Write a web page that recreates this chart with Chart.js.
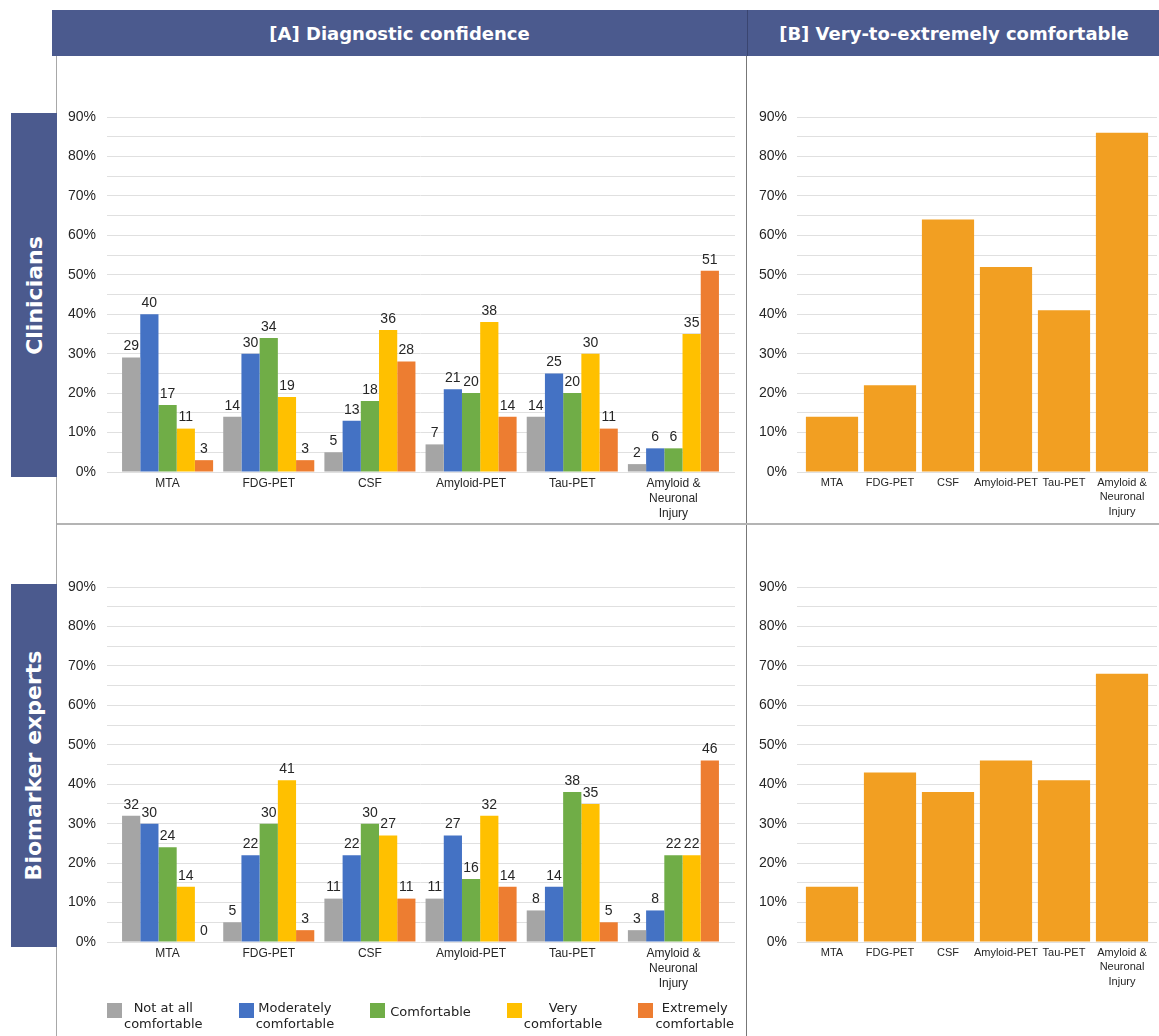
<!DOCTYPE html>
<html><head><meta charset="utf-8">
<script src="https://cdn.jsdelivr.net/npm/chart.js@4.4.1/dist/chart.umd.min.js"></script>
<style>
html,body{margin:0;padding:0;background:#fff;}
body{width:1159px;height:1036px;position:relative;overflow:hidden;font-family:'DejaVu Sans',Verdana,sans-serif;}
.hdr{position:absolute;top:10px;height:46px;background:#4b5a8e;color:#fff;font-weight:bold;font-size:18px;display:flex;align-items:center;justify-content:center;white-space:nowrap;}
.side{position:absolute;left:11px;width:46px;background:#4b5a8e;display:flex;align-items:center;justify-content:center;}
.side span{transform:rotate(-90deg);white-space:nowrap;color:#fff;font-weight:bold;font-size:22px;}
.line{position:absolute;background:#a8a8a8;}
canvas{position:absolute;}
#legend{position:absolute;left:107px;top:1000px;width:627px;display:flex;justify-content:space-between;align-items:flex-start;}
.li{display:flex;align-items:flex-start;}
.li .bx{width:15px;height:15px;margin-top:3px;flex:none;}
.li .tx{font-size:13px;line-height:16px;text-align:center;color:#222;margin-left:2px;white-space:nowrap;}
</style>
</head>
<body>
<div class="hdr" style="left:52px;width:695px;">[A] Diagnostic confidence</div>
<div class="hdr" style="left:747px;width:412px;border-left:1px solid #3a4570;">[B] Very-to-extremely comfortable</div>
<div class="line" style="left:56px;top:56px;width:1px;height:980px;"></div>
<div class="line" style="left:746px;top:56px;width:1px;height:980px;background:#777;"></div>
<div class="line" style="left:57px;top:523px;width:1102px;height:2px;background:#b4b4b4;"></div>
<div class="side" style="top:113px;height:364px;"><span>Clinicians</span></div>
<div class="side" style="top:584px;height:363px;"><span>Biomarker experts</span></div>

<canvas id="c1" width="688" height="462" style="left:58px;top:60px;"></canvas>
<canvas id="c2" width="410" height="462" style="left:749px;top:60px;"></canvas>
<canvas id="c3" width="688" height="506" style="left:58px;top:530px;"></canvas>
<canvas id="c4" width="410" height="506" style="left:749px;top:530px;"></canvas>
<div id="legend"></div>

<script>
const categories = ['MTA','FDG-PET','CSF','Amyloid-PET','Tau-PET',['Amyloid &','Neuronal','Injury']];
const seriesNames = [['Not at all','comfortable'],['Moderately','comfortable'],['Comfortable'],['Very','comfortable'],['Extremely','comfortable']];
const seriesColors = ['#a5a5a5','#4472c4','#70ad47','#ffc000','#ed7d31'];
const comfortColor = '#f29f22';

// Clinicians – diagnostic confidence (%)
const clinNotAtAll   = [29,14, 5, 7,14, 2];
const clinModerately = [40,30,13,21,25, 6];
const clinComfortable= [17,34,18,20,20, 6];
const clinVery       = [11,19,36,38,30,35];
const clinExtremely  = [ 3, 3,28,14,11,51];

// Biomarker experts – diagnostic confidence (%)
const expNotAtAll    = [32, 5,11,11, 8, 3];
const expModerately  = [30,22,22,27,14, 8];
const expComfortable = [24,30,30,16,38,22];
const expVery        = [14,41,27,32,35,22];
const expExtremely   = [ 0, 3,11,14, 5,46];

// Very-to-extremely comfortable (%)
const clinVeryToExtreme = [14,22,64,52,41,86];
const expVeryToExtreme  = [14,43,38,46,41,68];

const yMin = 0, yMax = 90, yStep = 5, yLabelStep = 10;

const valueLabels = {
  id:'valueLabels',
  afterDatasetsDraw(chart, args, opts){
    if(!opts.show) return;
    const ctx = chart.ctx;
    ctx.save();
    ctx.font = '14px "Liberation Sans", Arial, sans-serif';
    ctx.fillStyle = '#262626';
    ctx.textAlign = 'center';
    ctx.textBaseline = 'bottom';
    chart.data.datasets.forEach((ds,i)=>{
      const meta = chart.getDatasetMeta(i);
      meta.data.forEach((el,j)=>{
        ctx.fillText(String(ds.data[j]), el.x, el.y - 4);
      });
    });
    ctx.restore();
  }
};
const gridExtend = {
  id:'gridExtend',
  beforeDatasetsDraw(chart, args, opts){
    const ext = opts.right || 0; if(!ext) return;
    const ys = chart.scales.y, ca = chart.chartArea, ctx = chart.ctx;
    ctx.save();
    ctx.strokeStyle = opts.color; ctx.lineWidth = 1;
    ys.ticks.forEach(t=>{
      const py = Math.round(ys.getPixelForValue(t.value) - 0.5) + 0.5;
      ctx.beginPath(); ctx.moveTo(ca.right, py); ctx.lineTo(ca.right + ext, py); ctx.stroke();
    });
    ctx.restore();
  }
};

const gridColor = '#e0e0e0';
const axisFont = '"Liberation Sans", Arial, sans-serif';

function makeChart(id, datasets, cfg){
  return new Chart(document.getElementById(id), {
    type:'bar',
    data:{labels:categories, datasets},
    options:{
      responsive:false, animation:false, devicePixelRatio:1,
      layout:{padding:{top:cfg.padTop, right:cfg.padRight, left:0, bottom:0}},
      datasets:{bar:{categoryPercentage:cfg.cat, barPercentage:cfg.bar}},
      plugins:{
        legend:{display:false}, tooltip:{enabled:false},
        valueLabels:{show:cfg.labels},
        gridExtend:{right:cfg.ext, color:gridColor}
      },
      scales:{
        x:{
          grid:{display:false, drawTicks:false}, border:{display:false},
          ticks:{font:{family:axisFont, size:cfg.xFont, lineHeight:cfg.xLine}, color:'#262626', padding:cfg.xPad, maxRotation:0, autoSkip:false},
          afterFit(s){ s.height = cfg.xH; }
        },
        y:{
          min:yMin, max:yMax,
          grid:{color:gridColor, tickLength:cfg.tickLen, drawTicks:true, lineWidth:1},
          border:{display:false},
          ticks:{stepSize:yStep, autoSkip:false, color:'#262626', padding:cfg.yPad,
                 font:{family:axisFont, size:14},
                 callback:v => (v % yLabelStep === 0 ? v + '%' : '')},
          afterFit(s){ s.width = cfg.yW; }
        }
      }
    },
    plugins:[valueLabels, gridExtend]
  });
}

function groupSets(arrs){
  return arrs.map((d,i)=>({label:seriesNames[i].join(' '), data:d, backgroundColor:seriesColors[i], borderWidth:0}));
}

const leftCfg = {padRight:22, yW:59, tickLen:10, yPad:11, ext:11, cat:0.9, bar:1.0, xFont:12, xLine:1.25, xPad:4, labels:true};
const rightCfg = {padRight:8, yW:54, tickLen:6, yPad:10, ext:6, cat:0.9, bar:1.0, xFont:11, xLine:1.3, xPad:4, labels:false};

makeChart('c1', groupSets([clinNotAtAll,clinModerately,clinComfortable,clinVery,clinExtremely]),
  Object.assign({}, leftCfg, {padTop:57, xH:50}));
makeChart('c2', [{label:'Very-to-extremely comfortable', data:clinVeryToExtreme, backgroundColor:comfortColor, borderWidth:0}],
  Object.assign({}, rightCfg, {padTop:57, xH:50}));
makeChart('c3', groupSets([expNotAtAll,expModerately,expComfortable,expVery,expExtremely]),
  Object.assign({}, leftCfg, {padTop:57, xH:94}));
makeChart('c4', [{label:'Very-to-extremely comfortable', data:expVeryToExtreme, backgroundColor:comfortColor, borderWidth:0}],
  Object.assign({}, rightCfg, {padTop:57, xH:94}));

const lg = document.getElementById('legend');
seriesNames.forEach((n,i)=>{
  const it = document.createElement('div'); it.className='li';
  const bx = document.createElement('div'); bx.className='bx'; bx.style.background = seriesColors[i];
  const tx = document.createElement('div'); tx.className='tx';
  tx.innerHTML = n.join('<br>');
  if(n.length === 1){ tx.style.paddingTop = '4px'; tx.style.marginLeft = '5px'; }
  it.appendChild(bx); it.appendChild(tx); lg.appendChild(it);
});
</script>
</body></html>
